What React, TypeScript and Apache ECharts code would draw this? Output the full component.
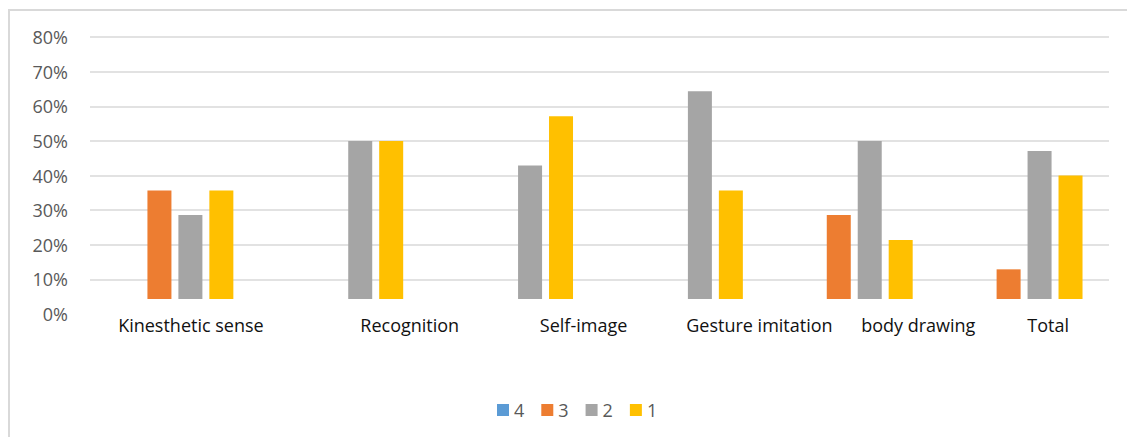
import React, { useEffect, useRef } from "react";
import * as echarts from "echarts";

// Categories and the share of each score per category
const categories = [
  "Kinesthetic sense",
  "Recognition",
  "Self-image",
  "Gesture imitation",
  "body drawing",
  "Total",
];
const seriesNames = ["4", "3", "2", "1"];
const score4 = [0, 0, 0, 0, 0, 0];
const score3 = [0.357, 0, 0, 0, 0.286, 0.129];
const score2 = [0.286, 0.5, 0.429, 0.643, 0.5, 0.471];
const score1 = [0.357, 0.5, 0.571, 0.357, 0.214, 0.4];
const yTicks = [0, 0.1, 0.2, 0.3, 0.4, 0.5, 0.6, 0.7, 0.8];

const colors = ["#5B9BD5", "#ED7D31", "#A5A5A5", "#FFC000"];
// Horizontal shift (px) of each category caption from its slot centre
const captionShift = [16, 65, 69, 75, 64, 24];

const FONT = "'Open Sans', 'Noto Sans', sans-serif";

export default function App() {
  const ref = useRef<HTMLDivElement>(null);

  useEffect(() => {
    if (!ref.current) return;
    const chart = echarts.init(ref.current, undefined, { renderer: "svg" });

    const values = [score4, score3, score2, score1];
    const rich: Record<string, any> = {};
    captionShift.forEach((s, i) => {
      rich["c" + i] = {
        padding: [0, 0, 0, 2 * s],
        fontSize: 18,
        fontFamily: FONT,
        color: "#111111",
      };
    });

    const yMax = yTicks[yTicks.length - 1];
    // Axis grid: top at 80%, 0% at y=314
    const gridTop = 37;
    const axisBottomPx = 314;
    const barBottomPx = 299;
    const pxPerUnit = (axisBottomPx - gridTop) / yMax;
    const barAxisMin = yMax - (barBottomPx - gridTop) / pxPerUnit;

    chart.setOption({
      animation: false,
      textStyle: { fontFamily: FONT },
      grid: [
        { left: 90, right: 18, top: gridTop, bottom: 437 - axisBottomPx },
        { left: 90, right: 18, top: gridTop, bottom: 437 - barBottomPx },
      ],
      xAxis: [
        { type: "category", gridIndex: 0, data: categories, show: false },
        {
          type: "category",
          gridIndex: 1,
          data: categories,
          axisLine: { show: false },
          axisTick: { show: false },
          axisLabel: {
            interval: 0,
            margin: 17,
            formatter: (v: string, i: number) => `{c${i}|${v}}`,
            rich,
          },
        },
      ],
      yAxis: [
        {
          type: "value",
          gridIndex: 0,
          min: 0,
          max: yMax,
          interval: 0.1,
          axisLine: { show: false },
          axisTick: { show: false },
          axisLabel: {
            margin: 22,
            color: "#595959",
            fontSize: 18,
            fontFamily: FONT,
            formatter: (v: number) => `${Math.round(v * 100)}%`,
          },
          splitLine: {
            show: true,
            showMinLine: false,
            lineStyle: { color: "#d9d9d9", width: 1.5 },
          },
        },
        {
          type: "value",
          gridIndex: 1,
          min: barAxisMin,
          max: yMax,
          show: false,
          splitLine: { show: false },
        },
      ],
      legend: {
        data: seriesNames,
        left: 492,
        top: 396,
        icon: "rect",
        itemWidth: 12,
        itemHeight: 12,
        itemGap: 17,
        textStyle: { color: "#595959", fontSize: 18, fontFamily: FONT },
      },
      series: seriesNames.map((name, k) => ({
        name,
        type: "bar",
        xAxisIndex: 1,
        yAxisIndex: 1,
        data: values[k],
        barWidth: 24,
        barGap: "29%",
        clip: true,
        itemStyle: { color: colors[k] },
      })),
      graphic: [
        {
          type: "line",
          shape: { x1: 9, y1: 10, x2: 9, y2: 437 },
          style: { stroke: "#d9d9d9", lineWidth: 2 },
        },
        {
          type: "line",
          shape: { x1: 8, y1: 10, x2: 1127, y2: 10 },
          style: { stroke: "#d9d9d9", lineWidth: 2 },
        },
      ],
    });

    return () => chart.dispose();
  }, []);

  return (
    <div
      ref={ref}
      style={{
        position: "fixed",
        left: 0,
        top: 0,
        width: 1127,
        height: 437,
        background: "#ffffff",
      }}
    />
  );
}
